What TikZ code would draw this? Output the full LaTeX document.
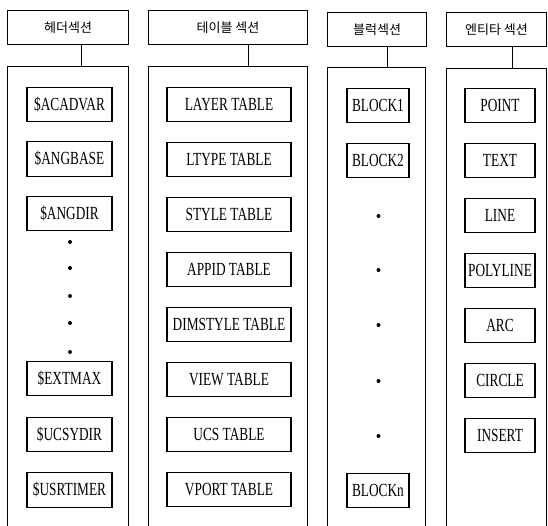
\documentclass[tikz,border=0pt]{standalone}
\usepackage{fontspec}
\setmainfont[FakeStretch=0.72]{Liberation Serif}
\newfontfamily\kr{Noto Sans CJK KR}
\begin{document}
\begin{tikzpicture}[x=1pt,y=-1pt,
  hdr/.style={draw,line width=1.1pt,anchor=north west,minimum height=34pt,inner sep=0pt,
    font=\kr\fontsize{13}{15}\selectfont},
  outer/.style={draw,line width=1.1pt,anchor=north west,minimum height=480pt,inner sep=0pt},
  item/.style={draw,line width=1.1pt,minimum height=34.5pt,inner sep=0pt,
    font=\fontsize{18.5}{20}\selectfont},
  link/.style={line width=1.1pt},
  dotmark/.style={circle,fill,inner sep=0pt,minimum size=4pt}]
\clip (0,0) rectangle (548,526);
\fill[white] (0,0) rectangle (548,526);
% headers
\node[hdr,minimum width=121pt] (h1) at (7,10) {헤더섹션};
\node[hdr,minimum width=159pt] (h2) at (148,10) {테이블 섹션};
\node[hdr,minimum width=99pt] (h3) at (327,12) {블럭섹션};
\node[hdr,minimum width=100pt] (h4) at (446,12) {엔티타 섹션};
% outer section boxes
\node[outer,minimum width=121pt] (m1) at (7,66) {};
\node[outer,minimum width=159pt] (m2) at (148,66) {};
\node[outer,minimum width=98pt] (m3) at (327,67) {};
\node[outer,minimum width=100pt] (m4) at (446,68) {};
% connectors
\draw[link] ([xshift=13.5pt]h1.south) -- ([xshift=13.5pt]h1.south |- m1.north);
\draw[link] ([xshift=20.5pt]h2.south) -- ([xshift=20.5pt]h2.south |- m2.north);
\draw[link] ([xshift=10.5pt]h3.south) -- ([xshift=10.5pt]h3.south |- m3.north);
\draw[link] ([xshift=16pt]h4.south) -- ([xshift=16pt]h4.south |- m4.north);
% column 1
\foreach \y/\t [count=\i] in {104.5/\$ACADVAR,159/\$ANGBASE,213.5/\$ANGDIR,378.5/\$EXTMAX,434.5/\$UCSYDIR,490/\$USRTIMER}
  \node[item,minimum width=85pt] (a\i) at (69.5,\y) {\t};
\foreach \y [count=\i] in {242,268,296,323,352}
  \node[dotmark] (ad\i) at (70,\y) {};
% column 2
\foreach \t [count=\i] in {LAYER TABLE,LTYPE TABLE,STYLE TABLE,APPID TABLE,DIMSTYLE TABLE,VIEW TABLE,UCS TABLE,VPORT TABLE}
  \node[item,minimum width=124pt] (b\i) at (229,{104.5+55*(\i-1)}) {\t};
% column 3
\foreach \y/\t [count=\i] in {105.5/BLOCK1,160.5/BLOCK2,490.5/BLOCKn}
  \node[item,minimum width=62pt] (c\i) at (378,\y) {\t};
\foreach \y [count=\i] in {216,270,325,381,436}
  \node[dotmark] (cd\i) at (378.5,\y) {};
% column 4
\foreach \t [count=\i] in {POINT,TEXT,LINE,POLYLINE,ARC,CIRCLE,INSERT}
  \node[item,minimum width=70pt] (d\i) at (500,{105.5+55*(\i-1)}) {\t};
\end{tikzpicture}
\end{document}
